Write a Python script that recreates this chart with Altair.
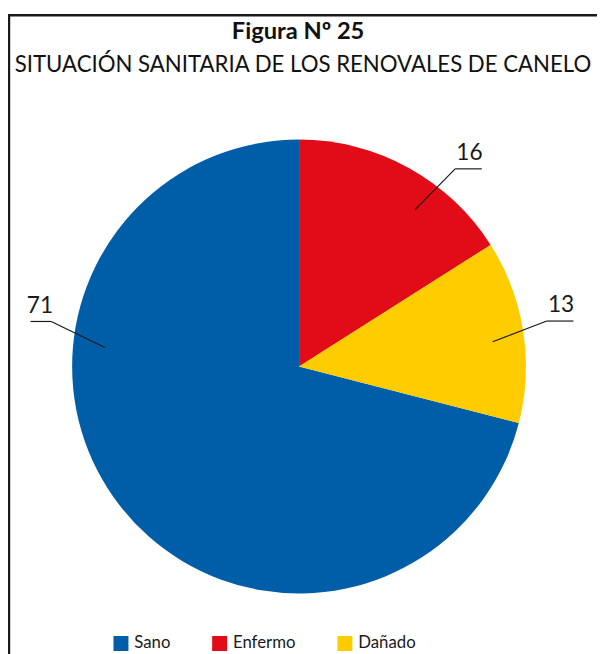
import math
import altair as alt
import pandas as pd

# ---- data ----
categories = ["Sano", "Enfermo", "Dañado"]
values = [71, 16, 13]
draw_order = [3, 1, 2]          # clockwise from 12 o'clock: Enfermo, Dañado, Sano
colors = ["#005EA8", "#E20C18", "#FFCC00"]

# ---- layout constants (annotation geometry) ----
CX, CY, R = 295, 359, 230
inner_angle = [275.6, 36.5, 82.7]   # degrees, clockwise from top
elbow_angle = [280.3, 38.3, 79.6]
INNER_R, ELBOW_R = 0.86 * R, 1.11 * R
FONT = "Lato"

df = pd.DataFrame({"cat": categories, "value": values, "order": draw_order})

rows = []
for c, v, a1, a2 in zip(categories, values, inner_angle, elbow_angle):
    x1 = CX + INNER_R * math.sin(math.radians(a1))
    y1 = CY - INNER_R * math.cos(math.radians(a1))
    x2 = CX + ELBOW_R * math.sin(math.radians(a2))
    y2 = CY - ELBOW_R * math.cos(math.radians(a2))
    side = 1 if x2 > CX else -1
    seg = 27 if side > 0 else 21
    x3 = x2 + side * seg
    rows.append({"cat": c, "label": str(v), "x1": x1, "y1": y1, "x2": x2, "y2": y2,
                 "x3": x3, "tx": (x2 + x3) / 2 + side * 1, "ty": y2 - 9})
lab = pd.DataFrame(rows)

pie = alt.Chart(df).mark_arc(radius=R, stroke=None).encode(
    theta=alt.Theta("value:Q", stack=True),
    order=alt.Order("order:Q"),
    color=alt.Color("cat:N", scale=alt.Scale(domain=categories, range=colors),
                    sort=categories,
                    legend=alt.Legend(title=None, orient="none", direction="horizontal",
                                      legendX=106, legendY=631, symbolType="square",
                                      symbolSize=230, symbolStrokeWidth=0,
                                      labelFont=FONT, labelFontSize=17,
                                      labelColor="#1a1a1a", columnPadding=41,
                                      labelOffset=5)),
    x=alt.value(CX), y=alt.value(CY),
)

seg1 = alt.Chart(lab).mark_rule(color="#1a1a1a", strokeWidth=1.2).encode(
    x=alt.X("x1:Q", scale=None), y=alt.Y("y1:Q", scale=None),
    x2="x2:Q", y2="y2:Q")
seg2 = alt.Chart(lab).mark_rule(color="#1a1a1a", strokeWidth=1.2).encode(
    x=alt.X("x2:Q", scale=None), y=alt.Y("y2:Q", scale=None),
    x2="x3:Q", y2="y2:Q")
txt = alt.Chart(lab).mark_text(font=FONT, fontSize=23, color="#1a1a1a",
                               baseline="alphabetic", align="center").encode(
    x=alt.X("tx:Q", scale=None), y=alt.Y("ty:Q", scale=None), text="label:N")

titles = pd.DataFrame({"t": ["Figura Nº 25", "SITUACIÓN SANITARIA DE LOS RENOVALES DE CANELO"],
                       "w": ["bold", "normal"]})
title1 = alt.Chart(titles).transform_filter(alt.datum.w == "bold").mark_text(
    font=FONT, fontSize=24, fontWeight="bold", color="#111111", baseline="alphabetic").encode(
    text="t:N", x=alt.value(294), y=alt.value(27))
title2 = alt.Chart(titles).transform_filter(alt.datum.w == "normal").mark_text(
    font=FONT, fontSize=22.5, color="#111111", baseline="alphabetic").encode(
    text="t:N", x=alt.value(299), y=alt.value(60))

border_top = alt.Chart(titles).transform_filter(alt.datum.w == "bold").mark_rule(
    color="#1a1a1a", strokeWidth=2.5).encode(x=alt.value(0), x2=alt.value(600), y=alt.value(3))
border_left = alt.Chart(titles).transform_filter(alt.datum.w == "bold").mark_rule(
    color="#1a1a1a", strokeWidth=2.5).encode(x=alt.value(1), y=alt.value(2), y2=alt.value(700))

chart = alt.layer(pie, seg1, seg2, txt, title1, title2, border_top, border_left).properties(
    width=597, height=646,
    autosize=alt.AutoSizeParams(type="none"),
    padding=0,
    background="white",
).configure_view(stroke=None)

chart.save("out.html", embed_options={"renderer": "svg", "actions": False})
